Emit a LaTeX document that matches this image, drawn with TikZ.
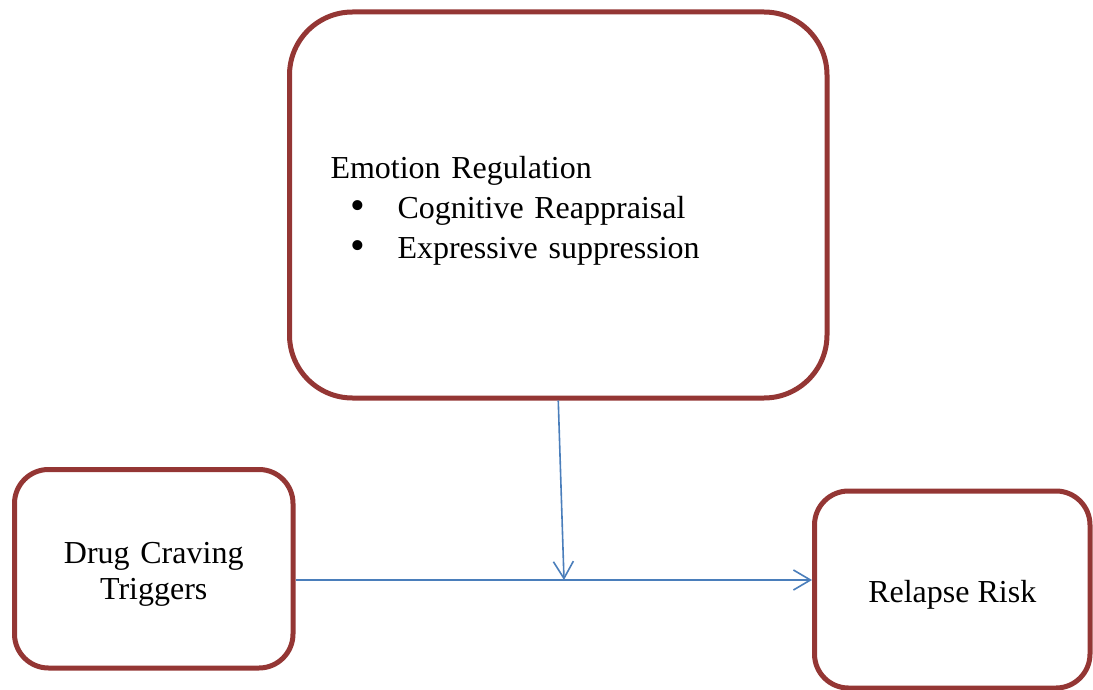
\documentclass[tikz,border=0pt]{standalone}
\usepackage{fontspec}
\setmainfont{Liberation Serif}
\usetikzlibrary{arrows.meta}
\definecolor{boxbrown}{HTML}{943634}
\definecolor{linkblue}{HTML}{4A7EBB}
\tikzset{
  factor/.style={draw=boxbrown, line width=5pt, rounded corners=#1, inner sep=0pt, text height=33pt},
  factor/.default=34pt,
  link/.style={draw=linkblue, line width=1.6pt, -{Straight Barb[length=17pt,width=20pt]}}
}
\newcommand{\itemdot}{\hspace*{20pt}\makebox[47pt][l]{\raisebox{-1.5pt}{\fontsize{42}{40}\selectfont\textbullet}}}
\begin{document}
\begin{tikzpicture}[x=1pt,y=1pt]
\useasboundingbox (0,0) rectangle (1093,-690);
% boxes
\node [factor=63pt, minimum width=537.5pt, minimum height=386pt, inner xsep=41pt, text width=455.5pt, align=left, font=\fontsize{32}{40}\selectfont] (emotion) at (558.25,-205) {Emotion Regulation\\ \itemdot Cognitive Reappraisal\\ \itemdot Expressive suppression};
\node [factor, minimum width=278.5pt, minimum height=198.5pt, text width=278.5pt, align=center, font=\fontsize{32}{36}\selectfont] (drug) at (153.75,-568.75) {Drug Craving\\Triggers};
\node [factor, minimum width=275.5pt, minimum height=197pt, font=\fontsize{32}{36}\selectfont] (relapse) at (952.25,-589.5) {Relapse Risk};
% arrows
\coordinate (join) at (564,-580);
\draw [link] (drug.east |- join) -- (relapse.west |- join);
\draw [link] (emotion.south) -- (join);
\end{tikzpicture}
\end{document}
